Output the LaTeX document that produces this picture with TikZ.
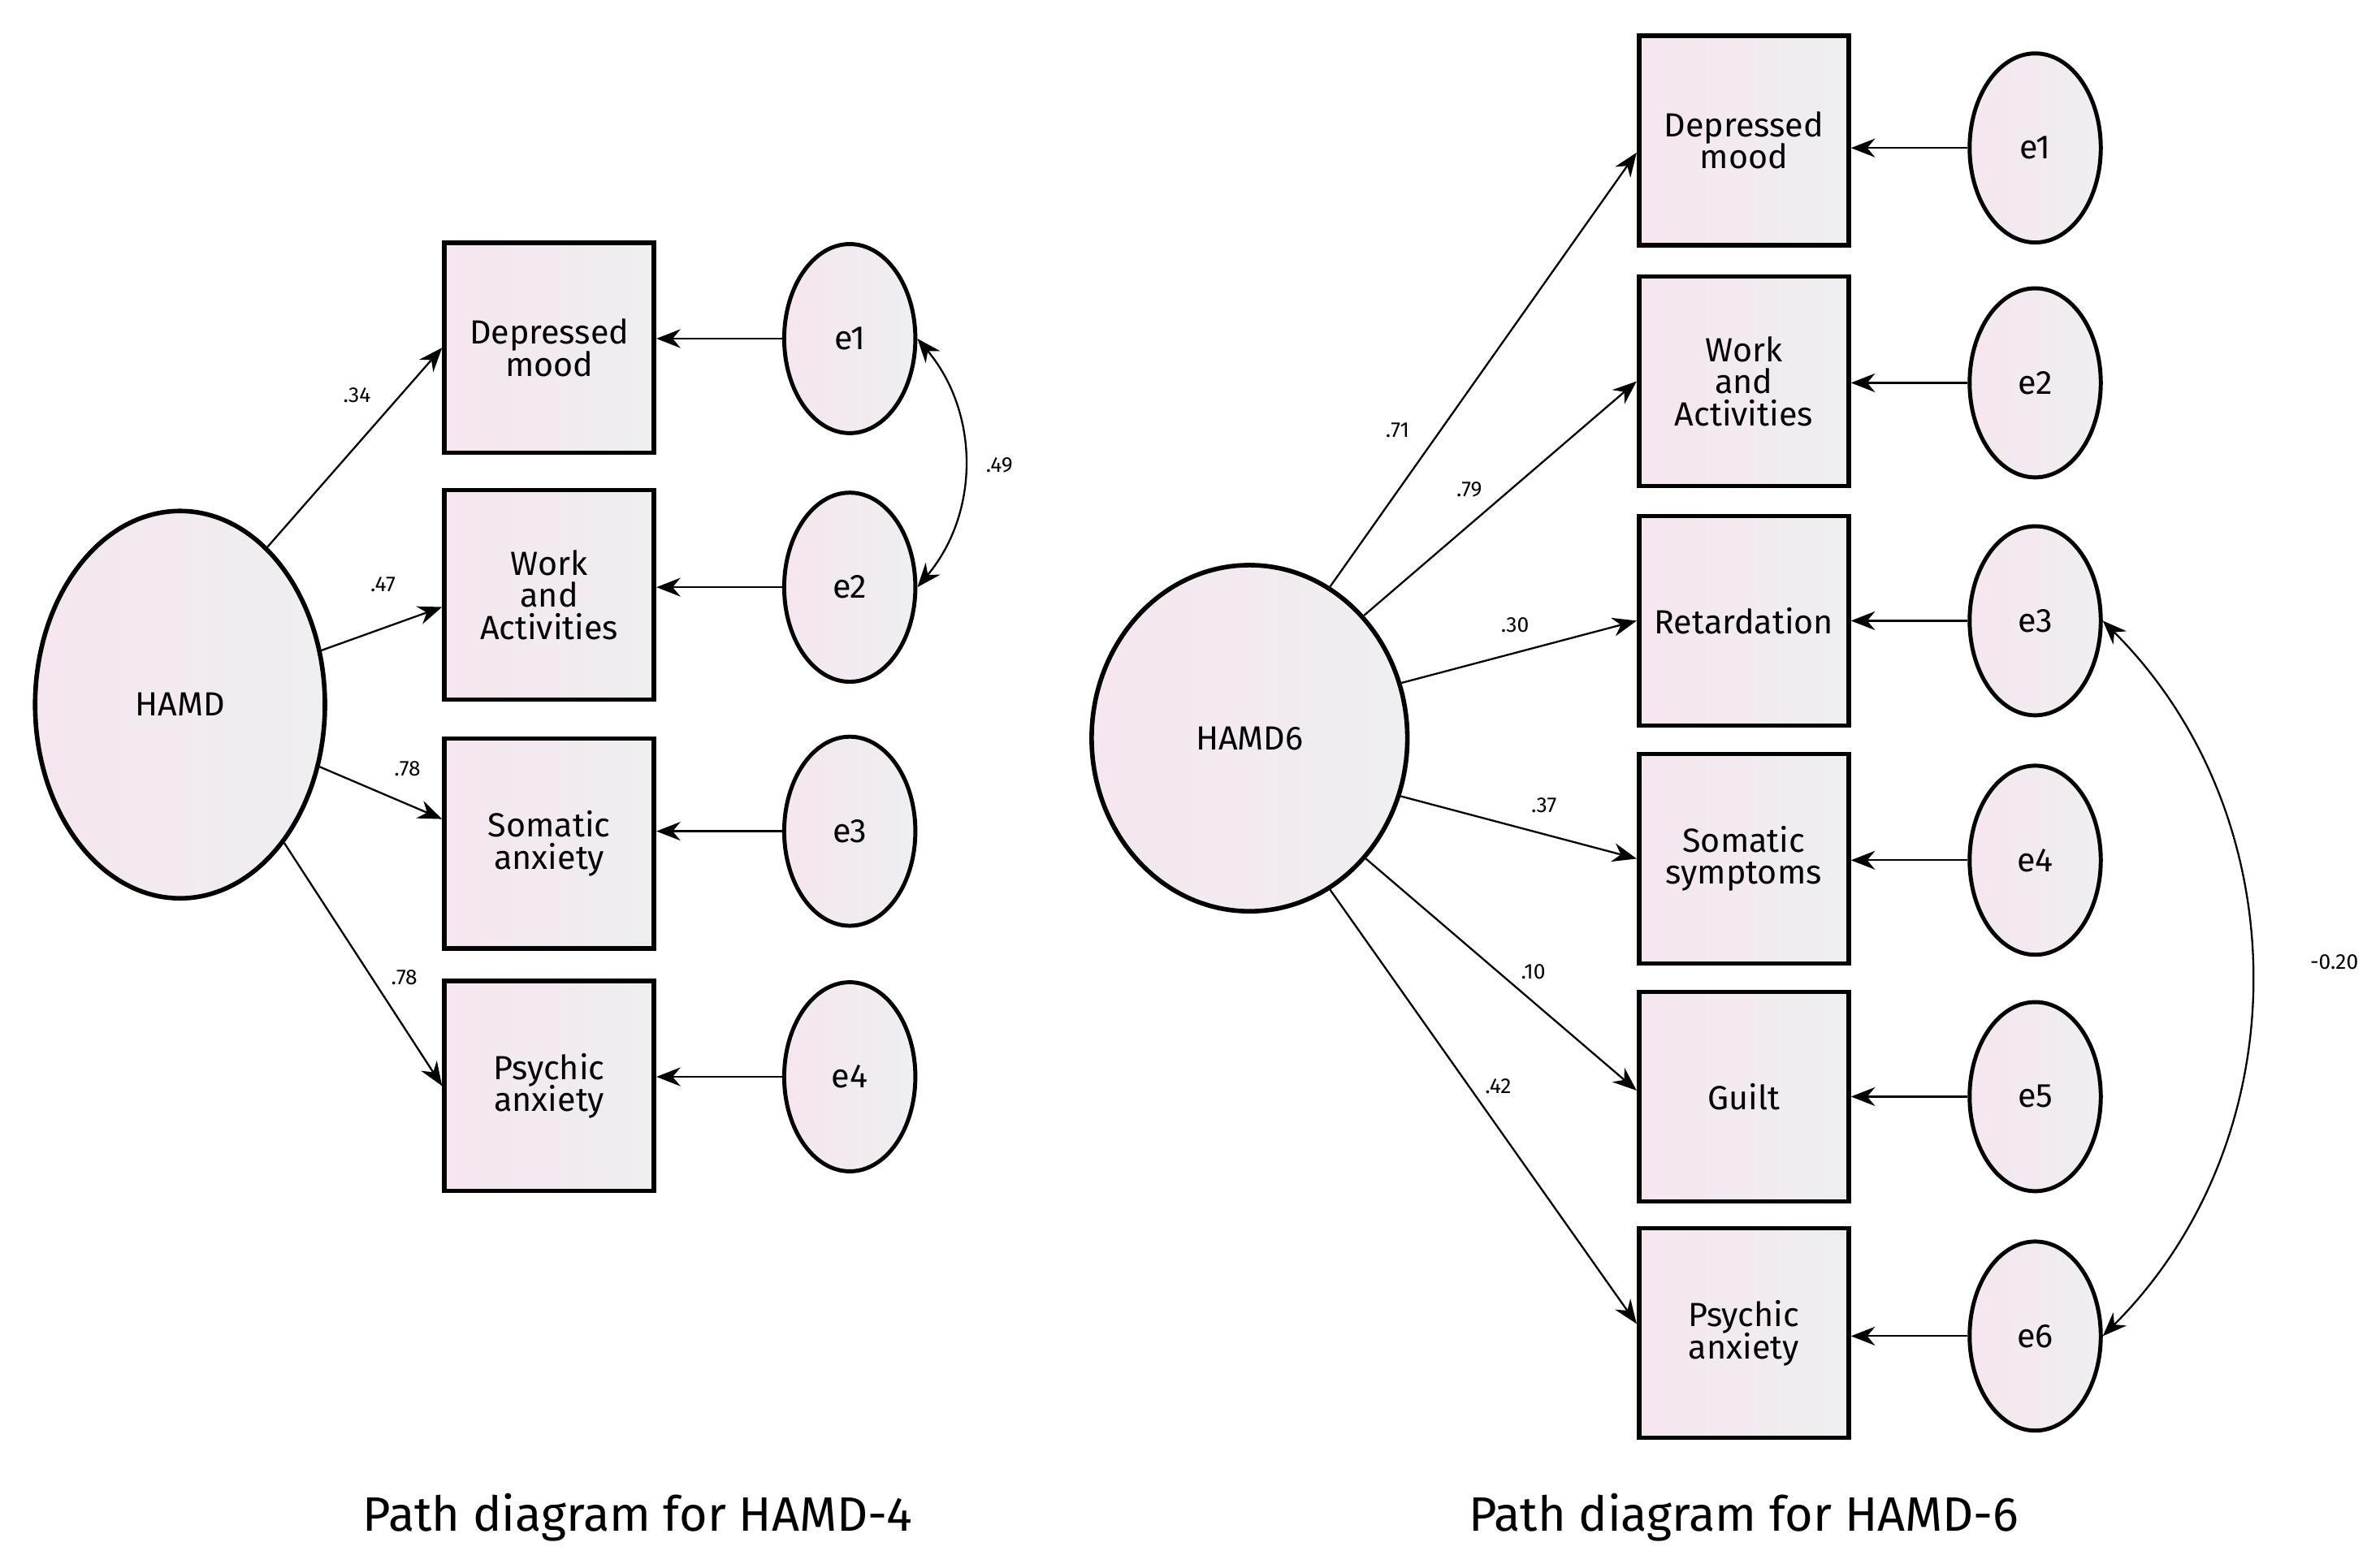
\documentclass[tikz,border=0pt]{standalone}
\usepackage{fontspec}
\setmainfont{Fira Sans}
\usetikzlibrary{arrows.meta,shapes.geometric,calc}
\begin{document}
\begin{tikzpicture}[x=0.02cm,y=-0.02cm,
  fillg/.style={left color=pink!60!violet!18, right color=blue!8!gray!12},
  box/.style={draw,line width=1.7pt,fillg,minimum width=2.75cm,minimum height=2.75cm,inner sep=0pt,align=center,font=\fontsize{12.5}{15}\selectfont},
  err/.style={ellipse,draw,line width=1.5pt,fillg,minimum width=1.72cm,minimum height=2.48cm,inner sep=0pt,font=\fontsize{12.5}{15}\selectfont},
  lat/.style={ellipse,draw,line width=1.7pt,fillg,inner sep=0pt,font=\fontsize{12.5}{15}\selectfont},
  arr/.style={-{Stealth[length=9pt,width=7pt]},line width=0.7pt},
  lab/.style={font=\fontsize{8}{10}\selectfont}]
\useasboundingbox (0,0) rectangle (1560,1025);
% ---- left
\node[lat,minimum width=3.8cm,minimum height=5.08cm] (H) at (118,462) {HAMD};
\node[box] (a1) at (360,228) {Depressed\\[-3pt]mood};
\node[box] (a2) at (360,390) {Work\\[-3pt]and\\[-3pt]Activities};
\node[box] (a3) at (360,553) {Somatic\\[-3pt]anxiety};
\node[box] (a4) at (360,712) {Psychic\\[-3pt]anxiety};
\node[err] (f1) at (557,222) {e1};
\node[err] (f2) at (557,385) {e2};
\node[err] (f3) at (557,545) {e3};
\node[err] (f4) at (557,706) {e4};
\draw[arr] (H.61) -- (a1.west);
\draw[arr] (H.21) -- ($(a2.west)+(0,8)$);
\draw[arr] (H.-24) -- ($(a3.west)+(0,-16)$);
\draw[arr] (H.-53) -- (a4.west);
\foreach \i in {1,...,4} \draw[arr] (f\i.west) -- (f\i.west -| a\i.east);
\draw[{Stealth[length=9pt,width=7pt]}-{Stealth[length=9pt,width=7pt]},line width=0.7pt] (f1.east) to[bend left=40] (f2.east);
\node[lab] (l1) at (234,259) {.34};
\node[lab] (l2) at (251,383) {.47};
\node[lab] (l3) at (267,504) {.78};
\node[lab] (l4) at (265,641) {.78};
\node[lab] (l5) at (655,305) {.49};
\node[font=\fontsize{18}{22}\selectfont] (c1) at (418,995) {Path diagram for HAMD-4};
% ---- right
\node[lat,minimum width=4.14cm,minimum height=4.54cm] (G) at (819,484) {HAMD6};
\node[box] (b1) at (1143,92) {Depressed\\[-3pt]mood};
\node[box] (b2) at (1143,250) {Work\\[-3pt]and\\[-3pt]Activities};
\node[box] (b3) at (1143,407) {Retardation};
\node[box] (b4) at (1143,563) {Somatic\\[-3pt]symptoms};
\node[box] (b5) at (1143,719) {Guilt};
\node[box] (b6) at (1143,874) {Psychic\\[-3pt]anxiety};
\node[err] (g1) at (1334,97) {e1};
\node[err] (g2) at (1334,251) {e2};
\node[err] (g3) at (1334,407) {e3};
\node[err] (g4) at (1334,564) {e4};
\node[err] (g5) at (1334,719) {e5};
\node[err] (g6) at (1334,876) {e6};
\draw[arr] (G.62) -- ($(b1.west)+(0,8)$);
\draw[arr] (G.47) -- (b2.west);
\draw[arr] (G.20) -- (b3.west);
\draw[arr] (G.-21) -- (b4.west);
\draw[arr] (G.-46) -- ($(b5.west)+(0,-4)$);
\draw[arr] (G.-62) -- ($(b6.west)+(0,-6)$);
\foreach \i in {1,...,6} \draw[arr] (g\i.west) -- (g\i.west -| b\i.east);
\draw[{Stealth[length=9pt,width=7pt]}-{Stealth[length=9pt,width=7pt]},line width=0.7pt] (g3.east) to[bend left=45] (g6.east);
\node[lab] (m1) at (916,282) {.71};
\node[lab] (m2) at (963,321) {.79};
\node[lab] (m3) at (993,410) {.30};
\node[lab] (m4) at (1012,528) {.37};
\node[lab] (m5) at (1005,637) {.10};
\node[lab] (m6) at (982,712) {.42};
\node[lab] (m7) at (1530,631) {-0.20};
\node[font=\fontsize{18}{22}\selectfont] (c2) at (1143,995) {Path diagram for HAMD-6};
\end{tikzpicture}
\end{document}
